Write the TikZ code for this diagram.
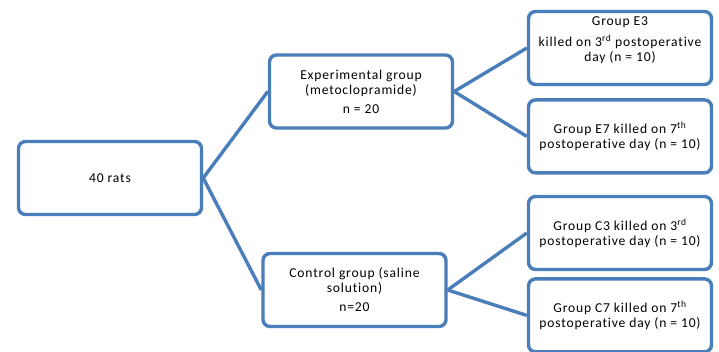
\documentclass[tikz,border=0pt]{standalone}
\usepackage{fontspec}
\setmainfont{Carlito}[LetterSpace=6,Ligatures=NoCommon]
\usetikzlibrary{positioning}
\definecolor{boxblue}{HTML}{4A7EBB}

\begin{document}
\begin{tikzpicture}[x=1pt,y=1pt]
  \tikzset{node distance = 12pt}
  \tikzset{GroupBox/.style={draw=boxblue, line width=3.4pt, rounded corners=7pt,
                            fill=white, minimum width=183pt, minimum height=73pt,
                            inner sep=0pt, align=center,
                            font=\fontsize{13.6}{15}\selectfont}}
  \tikzset{Branch/.style={draw=boxblue, line width=3.4pt}}
  \useasboundingbox (0,0) rectangle (719,351);

  \node[GroupBox] (rats) at (110,173) {40 rats};

  \node[GroupBox] (exp) at (361,259.5)
       {Experimental group\\(metoclopramide)\\[4pt]n = 20};
  \node[GroupBox] (ctrl) at (354.5,61)
       {Control group (saline\\solution)\\[4pt]n=20};

  \node[GroupBox] (e3) at (620,303)
       {Group E3\\[6pt]killed on 3\textsuperscript{rd} postoperative\\day (n = 10)\\[3pt]\mbox{}};
  \node[GroupBox, below=of e3] (e7)
       {Group E7 killed on 7\textsuperscript{th}\\postoperative day (n = 10)};

  \node[GroupBox] (c3) at (620,118)
       {Group C3 killed on 3\textsuperscript{rd}\\postoperative day (n = 10)};
  \node[GroupBox, below=6pt of c3] (c7)
       {Group C7 killed on 7\textsuperscript{th}\\postoperative day (n = 10)};

  % first split
  \draw[Branch] (rats.east) -- (exp.west);
  \draw[Branch] (rats.east) -- (ctrl.west);

  % second split
  \draw[Branch] (exp.east) -- (e3.west);
  \draw[Branch] (exp.east) -- (e7.west);
  \draw[Branch] (ctrl.east) -- (c3.west);
  \draw[Branch] (ctrl.east) -- (c7.west);
\end{tikzpicture}
\end{document}
